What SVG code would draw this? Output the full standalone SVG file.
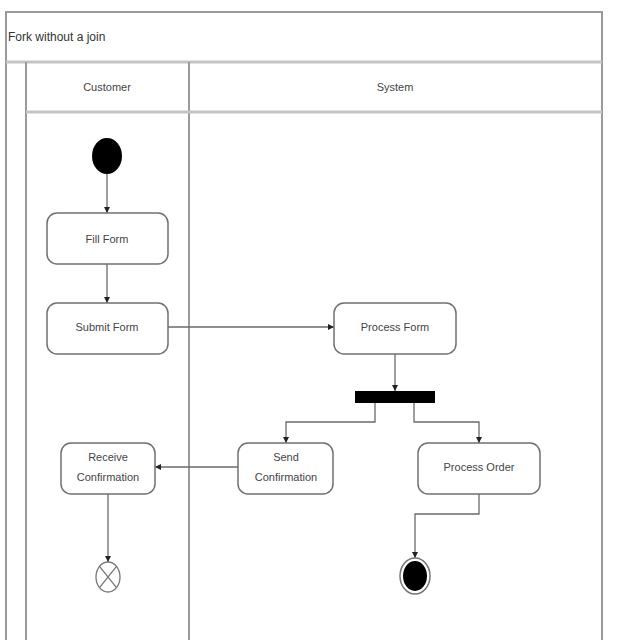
<svg xmlns="http://www.w3.org/2000/svg" width="640" height="640" viewBox="0 0 640 640">
<defs>
<marker id="arr" viewBox="0 0 10 10" refX="10" refY="5" markerWidth="6" markerHeight="6" orient="auto" markerUnits="userSpaceOnUse">
<path d="M0,0 L10,5 L0,10 z" fill="#222"/>
</marker>
<style>
.lane{stroke:#9a9a9a;stroke-width:2;fill:none}
.hdr{stroke:#c4c4c4;stroke-width:3;fill:none}
.act{fill:#fff;stroke:#707070;stroke-width:1.5}
.t{font-family:"Liberation Sans",Arial,sans-serif;font-size:11px;fill:#444;text-anchor:middle}
.title{font-family:"Liberation Sans",Arial,sans-serif;font-size:12px;fill:#333}
.c{stroke:#6a6a6a;stroke-width:1.3;fill:none;marker-end:url(#arr)}
</style>
</defs>
<rect width="640" height="640" fill="#fff"/>
<g id="frame">
<path class="lane" d="M6,640 V12 H602 V640"/>
<line class="hdr" x1="6" y1="62" x2="602" y2="62"/>
<line class="lane" x1="26" y1="62" x2="26" y2="640"/>
<line class="lane" x1="189" y1="62" x2="189" y2="640"/>
<line class="hdr" x1="26" y1="112" x2="602" y2="112"/>
<text class="title" x="8" y="41">Fork without a join</text>
<text class="t" x="107" y="91">Customer</text>
<text class="t" x="395" y="91">System</text>
</g>
<g id="connectors">
<line class="c" x1="107" y1="174" x2="107" y2="213"/>
<line class="c" x1="107" y1="264" x2="107" y2="303"/>
<line class="c" x1="168" y1="327" x2="334" y2="327"/>
<line class="c" x1="395" y1="354" x2="395" y2="391"/>
<polyline class="c" points="375,403 375,422 286,422 286,443"/>
<polyline class="c" points="414,403 414,422 479,422 479,443"/>
<line class="c" x1="238" y1="467" x2="155" y2="467"/>
<line class="c" x1="108" y1="494" x2="108" y2="562"/>
<polyline class="c" points="479,494 479,514 415,514 415,558"/>
</g>
<g id="start"><ellipse cx="107" cy="156" rx="15" ry="18" fill="#000"/></g>
<g id="fillForm"><rect class="act" x="47" y="213" width="121" height="51" rx="10"/><text class="t" x="107" y="243">Fill Form</text></g>
<g id="submitForm"><rect class="act" x="47" y="303" width="121" height="51" rx="10"/><text class="t" x="107" y="331">Submit Form</text></g>
<g id="processForm"><rect class="act" x="334" y="303" width="122" height="51" rx="10"/><text class="t" x="395" y="331">Process Form</text></g>
<g id="fork"><rect x="355" y="391" width="80" height="12" fill="#000"/></g>
<g id="sendConfirmation"><rect class="act" x="238" y="443" width="95" height="51" rx="10"/><text class="t" x="286" y="461">Send</text><text class="t" x="286" y="481">Confirmation</text></g>
<g id="processOrder"><rect class="act" x="418" y="443" width="122" height="51" rx="10"/><text class="t" x="479" y="471">Process Order</text></g>
<g id="receiveConfirmation"><rect class="act" x="61" y="443" width="94" height="51" rx="10"/><text class="t" x="108" y="461">Receive</text><text class="t" x="108" y="481">Confirmation</text></g>
<g id="flowFinal"><ellipse cx="108" cy="577" rx="12" ry="15" fill="#fff" stroke="#777" stroke-width="1.3"/><path d="M99.5,566.4 L116.5,587.6 M116.5,566.4 L99.5,587.6" stroke="#777" stroke-width="1.3"/></g>
<g id="final"><ellipse cx="415" cy="576" rx="15" ry="18" fill="#fff" stroke="#777" stroke-width="1.5"/><ellipse cx="415" cy="576" rx="12" ry="15" fill="#000"/></g>
</svg>
